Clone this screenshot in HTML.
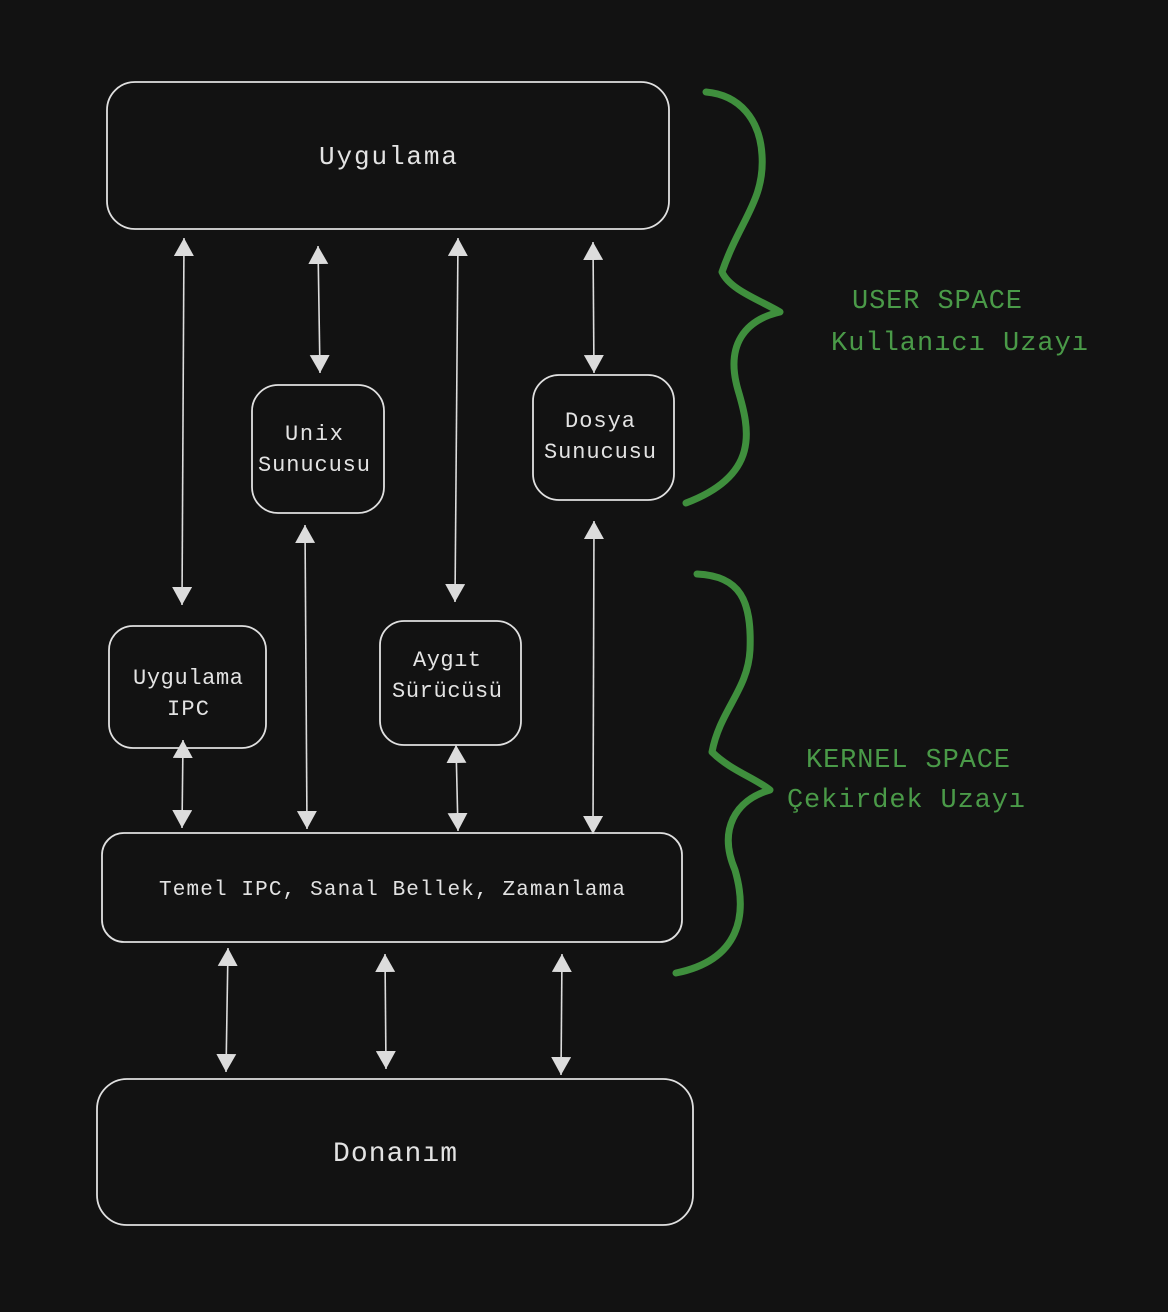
<!DOCTYPE html>
<html><head><meta charset="utf-8"><style>
html,body{margin:0;padding:0;background:#121212;}
svg{display:block}
text{font-family:"Liberation Mono","DejaVu Sans Mono",monospace;fill:#e3e3e3;}
.g{fill:#4a9a48;}
</style></head><body>
<svg width="1168" height="1312" viewBox="0 0 1168 1312" xmlns="http://www.w3.org/2000/svg">
<defs>
<marker id="ah2" viewBox="0 0 18 20" refX="18" refY="10" markerWidth="18" markerHeight="20" orient="auto-start-reverse" markerUnits="userSpaceOnUse">
<path d="M0,0 L18,10 L0,20 z" fill="#dcdcdc"/>
</marker>
</defs>
<rect width="1168" height="1312" fill="#121212"/>
<g fill="none" stroke="#e0e0e0" stroke-width="1.8">
<rect x="107" y="82" width="562" height="147" rx="28"/>
<rect x="252" y="385" width="132" height="128" rx="26"/>
<rect x="533" y="375" width="141" height="125" rx="26"/>
<rect x="109" y="626" width="157" height="122" rx="24"/>
<rect x="380" y="621" width="141" height="124" rx="24"/>
<rect x="102" y="833" width="580" height="109" rx="22"/>
<rect x="97" y="1079" width="596" height="146" rx="30"/>
</g>
<g stroke="#dcdcdc" stroke-width="1.6" marker-start="url(#ah2)" marker-end="url(#ah2)">
<line x1="184" y1="238" x2="182" y2="605"/>
<line x1="318" y1="246" x2="320" y2="373"/>
<line x1="458" y1="238" x2="455" y2="602"/>
<line x1="593" y1="242" x2="594" y2="373"/>
<line x1="305" y1="525" x2="307" y2="829"/>
<line x1="594" y1="521" x2="593" y2="834"/>
<line x1="183" y1="740" x2="182" y2="828"/>
<line x1="456" y1="745" x2="458" y2="831"/>
<line x1="228" y1="948" x2="226" y2="1072"/>
<line x1="385" y1="954" x2="386" y2="1069"/>
<line x1="562" y1="954" x2="561" y2="1075"/>
</g>
<g fill="none" stroke="#3f8f3d" stroke-width="7" stroke-linecap="round" stroke-linejoin="round">
<path d="M706,92 C740,95 760,120 762,155 C765,200 740,220 722,272 C730,290 760,300 780,312 C745,320 725,345 738,390 C750,430 760,475 686,503"/>
<path d="M697,574 C740,576 752,600 750,650 C748,690 720,710 712,752 C730,770 755,778 770,790 C735,800 718,830 735,870 C748,915 740,960 676,973"/>
</g>
<text x="388" y="164" font-size="26" text-anchor="middle" textLength="138">Uygulama</text>
<text x="314" y="440" font-size="22" text-anchor="middle" textLength="58">Unix</text>
<text x="314" y="471" font-size="22" text-anchor="middle" textLength="112">Sunucusu</text>
<text x="600" y="427" font-size="22" text-anchor="middle" textLength="70">Dosya</text>
<text x="600" y="458" font-size="22" text-anchor="middle" textLength="112">Sunucusu</text>
<text x="188" y="684" font-size="22" text-anchor="middle" textLength="110">Uygulama</text>
<text x="188" y="715" font-size="22" text-anchor="middle" textLength="42">IPC</text>
<text x="447" y="666" font-size="22" text-anchor="middle" textLength="68">Aygıt</text>
<text x="447" y="697" font-size="22" text-anchor="middle" textLength="110">Sürücüsü</text>
<text x="392" y="895" font-size="21" text-anchor="middle" textLength="466">Temel IPC, Sanal Bellek, Zamanlama</text>
<text x="395" y="1161" font-size="28" text-anchor="middle" textLength="124">Donanım</text>
<text class="g" x="852" y="308" font-size="27" textLength="170">USER SPACE</text>
<text class="g" x="831" y="350" font-size="27" textLength="257">Kullanıcı Uzayı</text>
<text class="g" x="806" y="767" font-size="27" textLength="204">KERNEL SPACE</text>
<text class="g" x="787" y="807" font-size="27" textLength="238">Çekirdek Uzayı</text>
</svg>
</body></html>
